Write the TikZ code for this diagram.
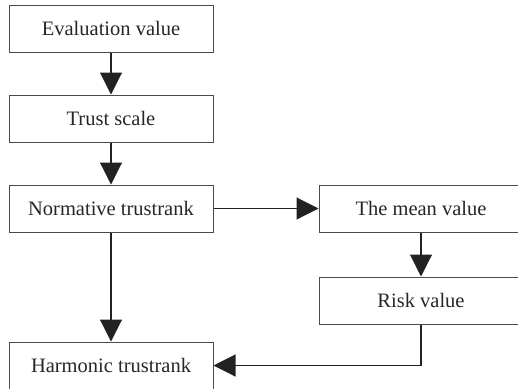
\documentclass[tikz,border=0pt]{standalone}
\usepackage{fontspec}
\setmainfont{Liberation Serif}
\usetikzlibrary{arrows.meta}
\definecolor{boxline}{HTML}{4A4A4A}
\definecolor{headfill}{HTML}{222222}
\begin{document}
\begin{tikzpicture}[x=1pt,y=-1pt,
  box/.style={draw=boxline,line width=1pt,minimum width=204pt,minimum height=47pt,inner sep=0pt,
    font=\fontsize{20.5}{24}\selectfont,text=black!85},
  flow/.style={draw=headfill,line width=1.1pt,-{Triangle[width=22pt,length=22pt]}}]
\clip (0,0) rectangle (518,388);
\node[box] (ev) at (111,28.5) {Evaluation value};
\node[box] (ts) at (111,118.5) {Trust scale};
\node[box] (nt) at (111,208.5) {Normative trustrank};
\node[box] (ht) at (111,365.5) {Harmonic trustrank};
\node[box] (mv) at (421,208.5) {The mean value};
\node[box] (rv) at (421,300.5) {Risk value};
\coordinate (elbow) at (rv.south |- ht.east);
\draw[flow] (ev) -- (ts);
\draw[flow] (ts) -- (nt);
\draw[flow] (nt) -- (ht);
\draw[flow] (nt) -- (mv);
\draw[flow] (mv) -- (rv);
\draw[flow] (rv.south) -- (elbow) -- (ht.east);
\end{tikzpicture}
\end{document}
